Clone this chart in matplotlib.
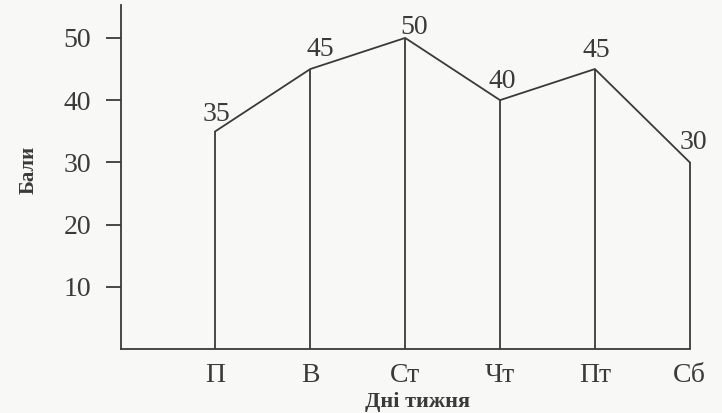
import matplotlib.pyplot as plt

days = ['П', 'В', 'Ст', 'Чт', 'Пт', 'Сб']
scores = [35, 45, 50, 40, 45, 30]
yticks = [10, 20, 30, 40, 50]

plt.rcParams['font.family'] = ['Liberation Serif', 'DejaVu Serif']
ink = '#3a3a3a'

fig = plt.figure(figsize=(7.22, 4.13), dpi=100, facecolor='#f8f8f6')
ax = fig.add_axes([0.167, 0.155, 0.833, 0.833])
ax.set_facecolor('#f8f8f6')

x = list(range(1, len(days) + 1))
ax.plot(x, scores, color=ink, lw=1.3)
ax.vlines(x, 0, scores, color=ink, lw=1.3)

# label offsets in pixels, nudged like the printed chart
offs = [(1, 17), (10, 20), (9, 10), (2, 19), (1, 19), (4, 20)]
for xi, v, (dx, dy) in zip(x, scores, offs):
    ax.annotate(str(v), (xi, v), xytext=(dx, dy), textcoords='offset pixels',
                ha='center', va='center', fontsize=20, color=ink)

ax.set_xlim(0, 6.34)
ax.set_ylim(0, 55.3)
ax.set_xticks(x)
ax.set_xticklabels(days, fontsize=20, color=ink)
ax.set_yticks(yticks)
ax.set_yticklabels([str(t) for t in yticks], fontsize=20, color=ink)
ax.tick_params(axis='x', length=0, pad=10)
ax.tick_params(axis='y', length=11, width=1.3, color=ink, pad=10)

for s in ['top', 'right']:
    ax.spines[s].set_visible(False)
for s in ['left', 'bottom']:
    ax.spines[s].set_color(ink)
    ax.spines[s].set_linewidth(1.3)
ax.spines['bottom'].set_bounds(0, 6)

ax.set_ylabel('Бали', fontsize=15, fontweight='bold', color=ink)
ax.yaxis.set_label_coords(-0.137, 0.52)
ax.set_xlabel('Дні тижня', fontsize=16, fontweight='bold', color=ink)
ax.xaxis.set_label_coords(0.494, -0.125)

fig.savefig('out.png', dpi=100, facecolor=fig.get_facecolor())
